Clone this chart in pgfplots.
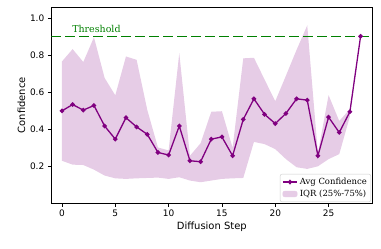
\documentclass[border=0pt]{standalone}
\usepackage{fontspec}
\setmainfont{DejaVu Sans}
\newfontfamily\seriffont{DejaVu Serif}
\usepackage{pgfplots}
\usepgfplotslibrary{fillbetween}
\pgfplotsset{compat=1.18}
\usepackage{pgfplotstable}
\definecolor{mpurple}{HTML}{800080}
\definecolor{iqrfill}{HTML}{E6CCE6}
\definecolor{mgreen}{HTML}{008000}
\pgfplotstableread{
step avg
0 0.500
1 0.534
2 0.504
3 0.529
4 0.418
5 0.347
6 0.463
7 0.413
8 0.373
9 0.275
10 0.261
11 0.418
12 0.230
13 0.225
14 0.347
15 0.359
16 0.257
17 0.454
18 0.565
19 0.481
20 0.431
21 0.486
22 0.565
23 0.558
24 0.257
25 0.466
26 0.383
27 0.495
28 0.903
}\avgtable
\pgfplotstableread{
step q25 q75
0 0.230 0.767
1 0.209 0.834
2 0.207 0.764
3 0.182 0.898
4 0.150 0.678
5 0.135 0.584
6 0.132 0.794
7 0.135 0.776
8 0.137 0.505
9 0.139 0.302
10 0.132 0.286
11 0.141 0.812
12 0.123 0.257
13 0.114 0.325
14 0.123 0.495
15 0.132 0.498
16 0.135 0.300
17 0.137 0.784
18 0.332 0.787
19 0.320 0.669
20 0.293 0.552
21 0.239 0.690
22 0.195 0.830
23 0.186 0.962
24 0.200 0.270
25 0.239 0.585
26 0.266 0.445
27 0.470 0.510
}\iqrtable
\begin{document}
\begin{tikzpicture}
\begin{axis}[
  scale only axis,
  width=321bp, height=196bp,
  xmin=-1, xmax=29.1,
  ymin=0, ymax=1.06,
  xtick={0,5,10,15,20,25},
  ytick={0.2,0.4,0.6,0.8,1.0},
  yticklabel style={/pgf/number format/fixed,/pgf/number format/fixed zerofill,/pgf/number format/precision=1},
  /pgf/number format/assume math mode=true,
  tick label style={font=\fontsize{9}{10}\selectfont},
  label style={font=\fontsize{10}{11}\selectfont},
  xlabel={Diffusion Step},
  ylabel={Confidence},
  xlabel style={yshift=2pt},
  ylabel style={yshift=-2pt},
  tick align=outside,
  xtick pos=bottom, ytick pos=left,
  major tick length=3.5bp,
  tick style={black, line width=0.6pt},
  axis line style={line width=0.8pt},
  legend style={at={(0.996,0.006)}, anchor=south east, draw=black!20, rounded corners=2pt,
    font=\seriffont\fontsize{8.5}{10}\selectfont, row sep=0pt, inner sep=2pt},
  legend cell align=left,
  legend image post style={xscale=0.85},
  clip=true,
]
\addplot[name path=up, draw=none, forget plot] table[x=step, y=q75] {\iqrtable};
\addplot[name path=lo, draw=none, forget plot] table[x=step, y=q25] {\iqrtable};
\addplot[draw=mgreen, dash pattern=on 9.5bp off 4.5bp, line width=1.1pt, forget plot] coordinates {(-1,0.9) (29.1,0.9)};
\addplot[mpurple, line width=1.3pt, mark=*, mark size=1.6pt] table[x=step, y=avg] {\avgtable};
\addlegendentry{Avg Confidence}
\addplot[iqrfill, draw=none, area legend] fill between[of=up and lo];
\addlegendentry{IQR (25\%-75\%)}
\node[anchor=base west, text=mgreen, font=\seriffont\fontsize{9.5}{11}\selectfont, inner sep=0pt] at (axis cs:0.95,0.925) {Threshold};
\end{axis}
\pgfresetboundingbox
\path[use as bounding box] (-51.3bp,-45.7bp) rectangle (329.7bp,203.3bp);
\end{tikzpicture}
\end{document}
